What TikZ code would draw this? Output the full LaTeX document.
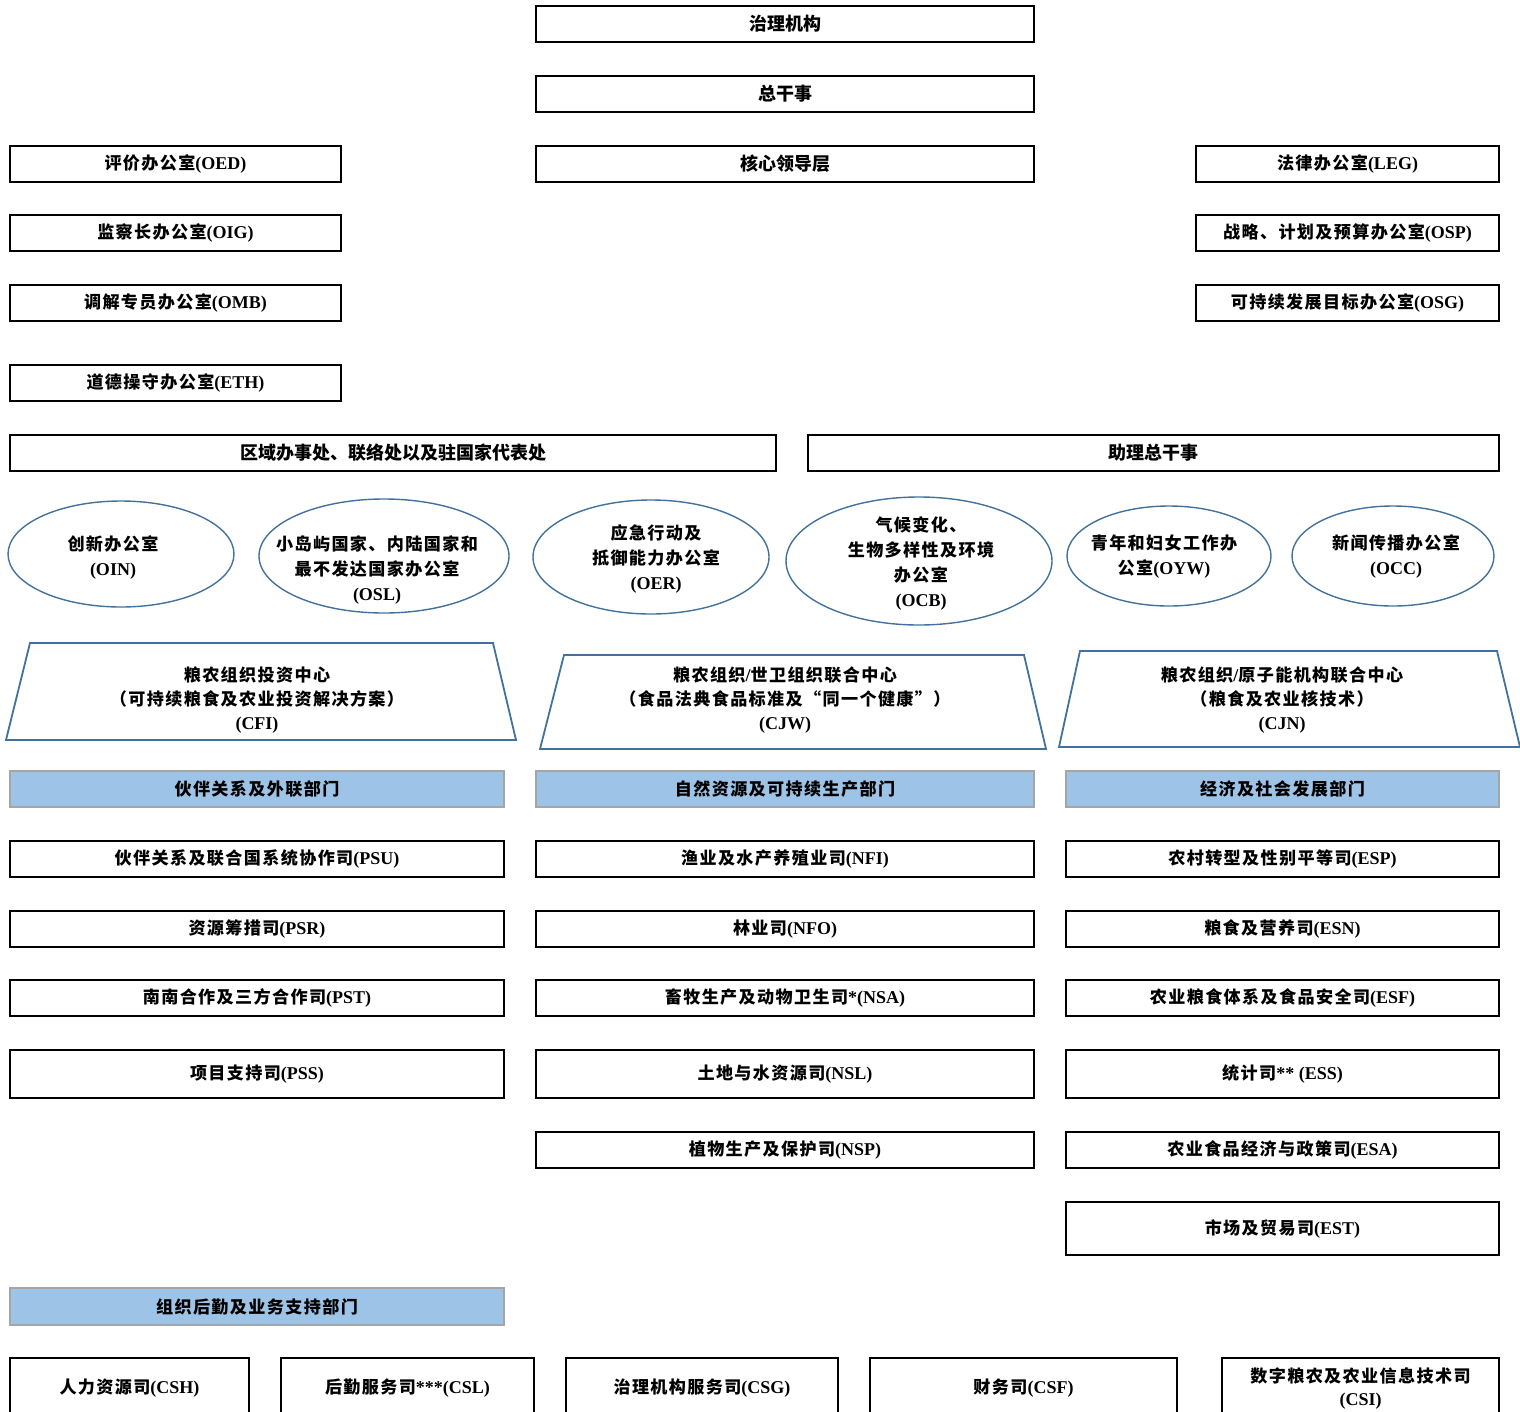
\documentclass[tikz,border=0pt]{standalone}
\usepackage{fontspec}
\setmainfont{Liberation Serif}
\newfontfamily\zhfont[Scale=0.95,LetterSpace=8]{Noto Sans CJK SC}
\newfontfamily\heifont{Noto Sans CJK SC}
\newcommand{\zh}[1]{{\zhfont #1}}
\newcommand{\hei}[1]{{\heifont #1}}
\definecolor{barfill}{HTML}{9DC3E6}
\definecolor{barline}{HTML}{A5A5A5}
\definecolor{ovalblue}{HTML}{41719C}
\tikzset{
  orgbox/.style={draw, line width=2.2pt, inner sep=0pt, minimum height=36pt,
    font=\fontsize{18}{25}\selectfont\bfseries, align=center},
  deptbar/.style={orgbox, draw=barline, fill=barfill},
  ovalline/.style={draw=ovalblue, line width=1.4pt},
  ovaltext/.style={inner sep=0pt, align=center, font=\fontsize{18}{25}\selectfont\bfseries},
  ctr/.style={minimum width=498pt},
  oleft/.style={minimum width=331pt},
  oright/.style={minimum width=303pt},
  dleft/.style={minimum width=494pt},
  dright/.style={minimum width=433pt},
}
\begin{document}
\begin{tikzpicture}[x=1pt, y=-1pt]
  \useasboundingbox (0,0) rectangle (1520,1411);
  % ── cabeza ──
  \node[orgbox, ctr] (gov)  at (785,24)  {\hei{治理机构}};
  \node[orgbox, ctr] (dg)   at (785,94)  {\hei{总干事}};
  \node[orgbox, ctr] (core) at (785,164) {\hei{核心领导层}};
  % ── oficinas a los lados ──
  \node[orgbox, oleft] (oed) at (175.5,164) {\zh{评价办公室}(OED)};
  \node[orgbox, oleft] (oig) at (175.5,233) {\zh{监察长办公室}(OIG)};
  \node[orgbox, oleft] (omb) at (175.5,303) {\zh{调解专员办公室}(OMB)};
  \node[orgbox, oleft] (eth) at (175.5,383) {\zh{道德操守办公室}(ETH)};
  \node[orgbox, oright] (leg) at (1347.5,164) {\zh{法律办公室}(LEG)};
  \node[orgbox, oright] (osp) at (1347.5,233) {\zh{战略、计划及预算办公室}(OSP)};
  \node[orgbox, oright] (osg) at (1347.5,303) {\zh{可持续发展目标办公室}(OSG)};
  \node[orgbox, minimum width=766pt] (reg) at (393,453) {\hei{区域办事处、联络处以及驻国家代表处}};
  \node[orgbox, minimum width=691pt] (adg) at (1153.5,453) {\hei{助理总干事}};
  % ── óvalos ──
  \draw[ovalline] (121,554) ellipse (113 and 53);
  \draw[ovalline] (384,556) ellipse (125 and 57);
  \draw[ovalline] (651,557) ellipse (118 and 57);
  \draw[ovalline] (919,561) ellipse (133 and 64);
  \draw[ovalline] (1169,556) ellipse (102 and 50);
  \draw[ovalline] (1393,556) ellipse (101 and 50);
  \node[ovaltext] (oin) at (113,557) {\zh{创新办公室}\\(OIN)};
  \node[ovaltext] (osl) at (377,570) {\zh{小岛屿国家、内陆国家和}\\\zh{最不发达国家办公室}\\(OSL)};
  \node[ovaltext] (oer) at (656,559) {\zh{应急行动及}\\\zh{抵御能力办公室}\\(OER)};
  \node[ovaltext] (ocb) at (921,563) {\zh{气候变化、}\\\zh{生物多样性及环境}\\\zh{办公室}\\(OCB)};
  \node[ovaltext] (oyw) at (1164,557) {\zh{青年和妇女工作办}\\\zh{公室}(OYW)};
  \node[ovaltext] (occ) at (1396,556) {\zh{新闻传播办公室}\\(OCC)};
  % ── centros conjuntos (trapecios) ──
  \draw[ovalline, line width=1.8pt] (30,643) -- (493,643) -- (516,740) -- (6,740) -- cycle;
  \draw[ovalline, line width=1.8pt] (564,655) -- (1024,655) -- (1046,749) -- (540,749) -- cycle;
  \draw[ovalline, line width=1.8pt] (1080,651) -- (1497,651) -- (1520,747) -- (1059,747) -- cycle;
  \node[ovaltext, font=\fontsize{18}{24}\selectfont\bfseries] (cfi) at (257,700)
    {\zh{粮农组织投资中心}\\\zh{（可持续粮食及农业投资解决方案）}\\(CFI)};
  \node[ovaltext, font=\fontsize{18}{24}\selectfont\bfseries] (cjw) at (785,700)
    {\zh{粮农组织}/\zh{世卫组织联合中心}\\\zh{（食品法典食品标准及“同一个健康”）}\\(CJW)};
  \node[ovaltext, font=\fontsize{18}{24}\selectfont\bfseries] (cjn) at (1282,700)
    {\zh{粮农组织}/\zh{原子能机构联合中心}\\\zh{（粮食及农业核技术）}\\(CJN)};
  % ── departamentos ──
  \node[deptbar, dleft]  (pdept) at (257,789)    {\zh{伙伴关系及外联部门}};
  \node[deptbar, ctr]    (ndept) at (785,789)    {\zh{自然资源及可持续生产部门}};
  \node[deptbar, dright] (edept) at (1282.5,789) {\zh{经济及社会发展部门}};
  \node[orgbox, dleft] (psu) at (257,859) {\zh{伙伴关系及联合国系统协作司}(PSU)};
  \node[orgbox, dleft] (psr) at (257,929) {\zh{资源筹措司}(PSR)};
  \node[orgbox, dleft] (pst) at (257,998) {\zh{南南合作及三方合作司}(PST)};
  \node[orgbox, dleft, minimum height=48pt] (pss) at (257,1074) {\zh{项目支持司}(PSS)};
  \node[orgbox, ctr] (nfi) at (785,859) {\zh{渔业及水产养殖业司}(NFI)};
  \node[orgbox, ctr] (nfo) at (785,929) {\zh{林业司}(NFO)};
  \node[orgbox, ctr] (nsa) at (785,998) {\zh{畜牧生产及动物卫生司}*(NSA)};
  \node[orgbox, ctr, minimum height=48pt] (nsl) at (785,1074) {\zh{土地与水资源司}(NSL)};
  \node[orgbox, ctr] (nsp) at (785,1150) {\zh{植物生产及保护司}(NSP)};
  \node[orgbox, dright] (esp) at (1282.5,859) {\zh{农村转型及性别平等司}(ESP)};
  \node[orgbox, dright] (esn) at (1282.5,929) {\zh{粮食及营养司}(ESN)};
  \node[orgbox, dright] (esf) at (1282.5,998) {\zh{农业粮食体系及食品安全司}(ESF)};
  \node[orgbox, dright, minimum height=48pt] (ess) at (1282.5,1074) {\zh{统计司}** (ESS)};
  \node[orgbox, dright] (esa) at (1282.5,1150) {\zh{农业食品经济与政策司}(ESA)};
  \node[orgbox, dright, minimum height=53pt] (est) at (1282.5,1228.5) {\zh{市场及贸易司}(EST)};
  % ── apoyo institucional ──
  \node[deptbar, dleft, minimum height=37pt] (cdept) at (257,1306.5) {\zh{组织后勤及业务支持部门}};
  \node[orgbox, minimum width=239pt, minimum height=60pt] (csh) at (129.5,1388) {\zh{人力资源司}(CSH)};
  \node[orgbox, minimum width=253pt, minimum height=60pt] (csl) at (407.5,1388) {\zh{后勤服务司}***(CSL)};
  \node[orgbox, minimum width=272pt, minimum height=60pt] (csg) at (702,1388) {\zh{治理机构服务司}(CSG)};
  \node[orgbox, minimum width=307pt, minimum height=60pt] (csf) at (1023.5,1388) {\zh{财务司}(CSF)};
  \node[orgbox, minimum width=277pt, minimum height=60pt, font=\fontsize{18}{23}\selectfont\bfseries] (csi) at (1360.5,1388)
    {\zh{数字粮农及农业信息技术司}\\(CSI)};
\end{tikzpicture}
\end{document}
